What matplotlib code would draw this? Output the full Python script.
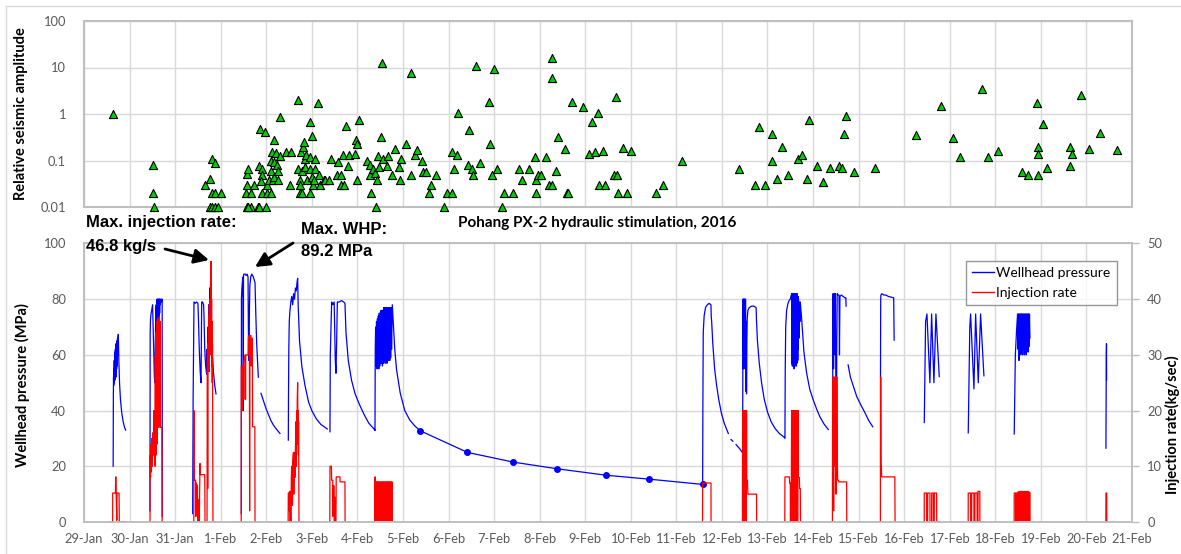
import numpy as np
import matplotlib
matplotlib.use('Agg')
import matplotlib.pyplot as plt
from matplotlib.lines import Line2D

nan = np.nan

# ---------------- data ----------------
day_labels = ['29-Jan', '30-Jan', '31-Jan', '1-Feb', '2-Feb', '3-Feb', '4-Feb', '5-Feb',
              '6-Feb', '7-Feb', '8-Feb', '9-Feb', '10-Feb', '11-Feb', '12-Feb', '13-Feb',
              '14-Feb', '15-Feb', '16-Feb', '17-Feb', '18-Feb', '19-Feb', '20-Feb', '21-Feb']
amp_ticks = [0.01, 0.1, 1, 10, 100]
amp_tick_labels = ['0.01', '0.1', '1', '10', '100']
whp_ticks = [0, 20, 40, 60, 80, 100]
rate_ticks = [0, 10, 20, 30, 40, 50]

# seismic events: (days since 29-Jan, relative amplitude)
seismic = [
    (0.64, 1.0), (1.52, 0.08), (1.52, 0.02), (1.53, 0.01),
    (2.66, 0.03), (2.76, 0.04), (2.80, 0.11), (2.88, 0.09), (2.82, 0.02), (2.87, 0.02), (3.01, 0.02),
    (2.76, 0.01), (2.80, 0.01), (2.87, 0.01), (2.94, 0.01),
    (3.56, 0.02), (3.57, 0.03), (3.58, 0.05), (3.61, 0.066), (3.66, 0.02), (3.58, 0.01), (3.66, 0.01),
    (3.73, 0.03), (3.61, 0.01), (3.82, 0.01),
    (3.84, 0.01), (3.85, 0.076), (3.86, 0.47), (3.90, 0.066), (3.90, 0.049), (3.89, 0.037), (3.91, 0.02),
    (3.97, 0.42), (3.99, 0.01), (4.01, 0.02), (4.01, 0.03), (4.10, 0.02),
    (4.06, 0.039), (4.10, 0.098), (4.11, 0.06), (4.13, 0.155), (4.14, 0.038), (4.16, 0.045), (4.17, 0.094),
    (4.18, 0.27), (4.21, 0.147), (4.23, 0.08), (4.26, 0.06), (4.26, 0.039), (4.30, 0.128), (4.30, 0.87),
    (4.43, 0.15), (4.54, 0.15), (4.52, 0.029),
    (4.70, 2.0), (4.70, 0.066), (4.74, 0.039), (4.74, 0.029), (4.74, 0.02), (4.77, 0.15), (4.79, 0.06),
    (4.79, 0.02), (4.81, 0.2), (4.83, 0.25), (4.85, 0.106), (4.86, 0.073), (4.88, 0.13), (4.89, 0.039),
    (4.95, 0.12), (4.96, 0.68), (4.96, 0.066), (4.97, 0.02), (5.00, 0.045), (5.01, 0.34), (5.03, 0.029),
    (5.05, 0.038), (5.07, 0.11), (5.07, 0.066), (5.14, 1.74), (5.16, 0.049), (5.18, 0.029), (5.27, 0.039),
    (5.29, 0.039), (5.38, 0.039), (5.41, 0.11),
    (5.56, 0.049), (5.58, 0.093), (5.65, 0.049), (5.64, 0.029), (5.71, 0.029), (5.69, 0.129), (5.74, 0.56),
    (5.80, 0.076), (5.82, 0.129), (5.95, 0.138), (5.97, 0.27), (6.00, 0.23), (5.99, 0.039), (6.04, 0.74),
    (6.20, 0.10), (6.28, 0.08), (6.28, 0.049), (6.30, 0.02), (6.35, 0.067), (6.39, 0.053), (6.40, 0.01),
    (6.42, 0.038), (6.46, 0.125), (6.48, 0.071), (6.52, 0.32), (6.53, 12.3), (6.57, 0.11), (6.64, 0.076),
    (6.68, 0.125), (6.76, 0.049), (6.83, 0.18), (6.91, 0.074), (6.93, 0.039), (6.95, 0.106),
    (7.07, 0.23), (7.17, 7.5), (7.17, 0.049), (7.26, 0.13), (7.30, 0.17), (7.41, 0.10), (7.45, 0.058),
    (7.51, 0.058), (7.57, 0.02), (7.62, 0.029), (7.72, 0.049), (7.90, 0.01), (7.96, 0.02), (8.07, 0.02),
    (8.08, 0.15), (8.13, 0.066), (8.19, 0.13), (8.21, 1.07), (8.42, 0.079), (8.46, 0.45), (8.51, 0.066),
    (8.53, 0.049), (8.60, 11.0), (8.69, 0.089), (8.89, 1.78), (8.92, 0.23), (8.96, 0.049), (9.00, 9.4),
    (9.06, 0.066), (9.17, 0.01), (9.22, 0.02), (9.41, 0.02), (9.55, 0.066), (9.62, 0.039), (9.77, 0.066),
    (9.90, 0.12), (9.93, 0.039), (9.93, 0.02), (9.96, 0.049), (10.03, 0.049), (10.15, 0.12), (10.21, 0.029),
    (10.28, 0.029), (10.28, 15.8), (10.28, 5.9), (10.35, 0.06), (10.40, 0.32), (10.56, 0.18), (10.61, 0.02),
    (10.63, 0.02),
    (10.72, 1.84), (10.96, 1.39), (11.09, 0.14), (11.15, 0.68), (11.21, 0.15), (11.27, 1.03), (11.38, 0.16),
    (11.31, 0.03), (11.43, 0.03), (11.64, 0.049), (11.70, 0.049), (11.68, 2.3), (11.73, 0.02), (11.82, 0.19),
    (11.91, 0.02), (12.00, 0.16), (12.55, 0.02), (12.70, 0.03), (13.12, 0.1),
    (14.38, 0.067), (14.73, 0.03), (14.82, 0.52), (14.95, 0.03), (15.11, 0.38), (15.11, 0.098), (15.20, 0.04),
    (15.31, 0.2), (15.44, 0.049), (15.68, 0.108), (15.75, 0.13), (15.87, 0.04), (15.91, 0.74), (16.08, 0.077),
    (16.21, 0.034), (16.37, 0.068), (16.58, 0.077), (16.63, 0.068), (16.69, 0.37), (16.72, 0.91), (16.90, 0.057),
    (17.35, 0.068), (18.27, 0.36), (18.81, 1.5), (19.07, 0.31), (19.22, 0.118), (19.70, 3.4), (19.85, 0.118),
    (20.07, 0.16), (20.58, 0.057), (20.72, 0.049), (20.91, 1.75), (20.93, 0.049), (20.94, 0.2), (20.94, 0.136),
    (21.05, 0.61), (21.14, 0.068), (21.64, 0.2), (21.68, 0.136), (21.65, 0.077), (21.88, 2.6), (22.05, 0.176),
    (22.30, 0.40), (22.67, 0.166),
]

# wellhead pressure (days, MPa), one list per recorded stage
whp_e1 = [(0.640, 20), (0.644, 45), (0.648, 52), (0.652, 49), (0.656, 55), (0.660, 50), (0.664, 58), (0.668, 51),
          (0.672, 60), (0.676, 52), (0.680, 61), (0.684, 51), (0.688, 62), (0.692, 53), (0.696, 63), (0.700, 52),
          (0.704, 64), (0.708, 54), (0.712, 64), (0.716, 55), (0.720, 65), (0.724, 56), (0.728, 65), (0.732, 58),
          (0.736, 66), (0.740, 60), (0.745, 66), (0.753, 67.4), (0.765, 58), (0.780, 50), (0.800, 44),
          (0.830, 39), (0.860, 36), (0.890, 34), (0.914, 33)]
whp_e2 = [(1.448, 4), (1.450, 30), (1.452, 68), (1.458, 72), (1.465, 74), (1.475, 75), (1.485, 76), (1.495, 77),
          (1.505, 78), (1.515, 72), (1.525, 65), (1.535, 58), (1.545, 52), (1.555, 50), (1.562, 60), (1.570, 70),
          (1.578, 76), (1.585, 78), (1.590, 60), (1.595, 79), (1.600, 62), (1.605, 80), (1.610, 64), (1.615, 80),
          (1.620, 70), (1.625, 80), (1.630, 58), (1.635, 80), (1.640, 72), (1.645, 80), (1.650, 66), (1.655, 80),
          (1.660, 75), (1.665, 80), (1.670, 78), (1.680, 80), (1.690, 80), (1.700, 79), (1.710, 80), (1.715, 80),
          (1.718, 2)]
whp_e3 = [(2.385, 3), (2.395, 45), (2.414, 79), (2.44, 78.5), (2.47, 79), (2.50, 78.5), (2.51, 74), (2.53, 62),
          (2.55, 54), (2.568, 50), (2.575, 65), (2.583, 79), (2.60, 79), (2.625, 78), (2.634, 74), (2.65, 62),
          (2.67, 56), (2.692, 53), (2.70, 62), (2.71, 57), (2.72, 70), (2.73, 64), (2.74, 78), (2.75, 72),
          (2.76, 84), (2.77, 80), (2.78, 88.5), (2.79, 75), (2.81, 62), (2.84, 54), (2.87, 49), (2.897, 46)]
whp_e4a = [(3.452, 3), (3.455, 80), (3.465, 84), (3.475, 86), (3.490, 88), (3.497, 40), (3.500, 88), (3.505, 89),
           (3.519, 89), (3.54, 89), (3.56, 88.5), (3.58, 89), (3.600, 88), (3.607, 70), (3.615, 58), (3.625, 62),
           (3.629, 75), (3.640, 85), (3.660, 88), (3.680, 89), (3.700, 88.5), (3.716, 88), (3.735, 87),
           (3.753, 86), (3.770, 75), (3.790, 64), (3.810, 57), (3.826, 52)]
whp_e4b = [(3.884, 46.2), (3.95, 43), (4.00, 40.5), (4.05, 38.5), (4.10, 36.5), (4.15, 35), (4.20, 33.8),
           (4.25, 32.8), (4.30, 31.8)]
whp_e5 = [(4.484, 29.4), (4.488, 45), (4.495, 62), (4.505, 72), (4.52, 76), (4.54, 79), (4.56, 81), (4.58, 78),
          (4.60, 82), (4.62, 80), (4.64, 84), (4.66, 83), (4.675, 86), (4.689, 87.5), (4.70, 78), (4.73, 65),
          (4.78, 56), (4.85, 49), (4.93, 43), (5.00, 40), (5.10, 37), (5.20, 35), (5.34, 33.4)]
whp_e6 = [(5.398, 32.4), (5.405, 60), (5.435, 79), (5.46, 78), (5.49, 79), (5.50, 70), (5.515, 58), (5.53, 53.4),
          (5.545, 65), (5.56, 79), (5.60, 79), (5.65, 79.5), (5.70, 79), (5.727, 78.5), (5.75, 68), (5.80, 58),
          (5.87, 51), (5.95, 46), (6.05, 42), (6.15, 38.5), (6.25, 35.5), (6.386, 33)]
whp_e7 = [(6.386, 33), (6.392, 62), (6.40, 70), (6.41, 56), (6.42, 72), (6.43, 55), (6.44, 73), (6.45, 56),
          (6.46, 74), (6.47, 55), (6.48, 75), (6.49, 56), (6.50, 75), (6.51, 57), (6.52, 76), (6.53, 57),
          (6.54, 76), (6.55, 56), (6.56, 76), (6.57, 57), (6.58, 77), (6.59, 58), (6.60, 77), (6.61, 57),
          (6.62, 77), (6.63, 58), (6.64, 77), (6.65, 57), (6.66, 77), (6.67, 58), (6.68, 77), (6.69, 58),
          (6.70, 77), (6.71, 58), (6.72, 77), (6.73, 59), (6.74, 77), (6.75, 62), (6.766, 78), (6.79, 71),
          (6.82, 62), (6.86, 54.6), (6.94, 46.3), (7.04, 40), (7.15, 36.6), (7.26, 34.5), (7.374, 32.8)]
whp_daily = [(7.374, 32.8), (8.413, 25.0), (9.422, 21.5), (10.388, 19.1), (11.456, 16.8), (12.392, 15.4),
             (13.577, 13.5)]
whp_e8a = [(13.577, 13.5), (13.582, 40), (13.59, 68), (13.61, 74), (13.64, 77), (13.68, 78), (13.72, 78.5),
           (13.76, 78), (13.765, 74), (13.775, 72), (13.80, 64), (13.84, 55), (13.88, 49.5), (13.93, 44),
           (13.99, 39), (14.05, 35.5), (14.14, 31.8)]
whp_e8b = [(14.20, 29.6), (14.24, 29.0)]
whp_e8c = [(14.31, 27.8), (14.38, 26.5), (14.44, 25.2)]
whp_e9 = [(14.455, 25), (14.458, 60), (14.462, 80), (14.466, 56), (14.470, 80), (14.474, 55), (14.478, 80),
          (14.482, 58), (14.486, 80), (14.490, 56), (14.494, 80), (14.498, 60), (14.502, 80), (14.506, 55),
          (14.510, 78), (14.514, 58), (14.518, 80), (14.522, 47), (14.526, 70), (14.530, 56), (14.535, 72),
          (14.540, 46), (14.548, 65), (14.555, 73), (14.57, 76), (14.60, 77), (14.65, 77.5), (14.70, 77.5),
          (14.75, 77), (14.76, 72), (14.78, 65), (14.82, 57), (14.87, 50), (14.93, 44), (15.00, 39.5),
          (15.08, 36), (15.17, 33.5), (15.26, 31.8), (15.36, 30.5)]
whp_e10 = [(15.383, 30), (15.39, 55), (15.40, 70), (15.42, 76), (15.45, 78.5), (15.48, 79.7), (15.50, 80),
           (15.53, 82), (15.535, 57), (15.54, 82), (15.545, 56), (15.55, 81), (15.555, 57), (15.56, 82),
           (15.565, 56), (15.57, 81), (15.575, 58), (15.58, 82), (15.585, 55), (15.59, 81), (15.595, 57),
           (15.60, 82), (15.605, 56), (15.61, 80), (15.615, 58), (15.62, 82), (15.625, 57), (15.63, 81),
           (15.635, 56), (15.64, 80), (15.645, 57), (15.65, 82), (15.655, 60), (15.66, 80), (15.665, 58),
           (15.67, 81), (15.675, 62), (15.68, 80), (15.69, 66), (15.70, 79), (15.713, 72), (15.72, 79),
           (15.75, 73), (15.80, 61), (15.86, 53.4), (15.93, 47.5), (16.005, 43.8), (16.08, 40.5),
           (16.15, 37.8), (16.24, 35.2), (16.334, 33.2)]
whp_e11a = [(16.43, 33), (16.435, 70), (16.44, 82), (16.45, 55), (16.46, 82), (16.47, 80), (16.48, 60),
            (16.49, 82), (16.50, 50), (16.51, 30), (16.515, 24.6), (16.52, 60), (16.53, 82), (16.55, 81.5),
            (16.57, 81.5), (16.58, 60), (16.59, 81), (16.62, 81.5), (16.66, 81), (16.70, 80.5), (16.72, 80.5),
            (16.725, 77.5)]
whp_e11b = [(16.77, 56.4), (16.82, 52), (16.88, 49), (16.96, 45), (17.05, 42), (17.14, 39.2), (17.22, 36.5),
            (17.31, 34.2)]
whp_e12 = [(17.48, 52), (17.485, 80), (17.49, 81.5), (17.51, 82), (17.55, 81.5), (17.60, 81.5), (17.65, 81),
           (17.70, 80.8), (17.77, 80.5), (17.775, 72), (17.78, 65.3)]
whp_e13 = [(18.441, 35.7), (18.47, 72), (18.500, 74.7), (18.565, 50), (18.602, 74.7), (18.653, 50),
           (18.697, 74.7), (18.770, 52.2)]
whp_e14 = [(19.406, 32), (19.44, 70), (19.458, 74.7), (19.531, 47.8), (19.568, 74.7), (19.626, 50),
           (19.677, 74.7), (19.750, 52.5)]
whp_e15 = [(20.415, 31.6), (20.44, 60), (20.467, 69), (20.489, 74.7), (20.50, 62), (20.51, 74.7), (20.52, 58),
           (20.53, 74.7), (20.54, 62), (20.55, 74.7), (20.56, 60), (20.57, 74.7), (20.58, 61), (20.59, 74.7),
           (20.60, 60), (20.61, 74.7), (20.62, 62), (20.63, 74.7), (20.64, 60), (20.65, 74.7), (20.66, 61),
           (20.67, 74.7), (20.68, 60), (20.69, 74.7), (20.70, 62), (20.71, 74.7), (20.72, 61), (20.73, 74.7),
           (20.74, 63), (20.75, 74.7), (20.76, 66)]
whp_e16 = [(22.428, 26.5), (22.432, 45), (22.436, 60), (22.44, 64), (22.442, 51)]

# injection rate (days, kg/s)
rate_e1 = [(0.629, 0), (0.630, 5.2), (0.69, 5.2), (0.695, 8.1), (0.70, 8.1), (0.705, 5.2), (0.72, 0.3),
           (0.725, 5.2), (0.77, 5.2), (0.775, 0), (0.90, 0)]
rate_e2 = [(1.449, 0), (1.450, 12), (1.46, 8), (1.47, 14), (1.48, 9), (1.49, 15), (1.50, 10), (1.51, 16),
           (1.52, 12), (1.53, 20), (1.54, 14), (1.55, 20), (1.56, 10), (1.565, 30), (1.57, 15), (1.575, 34),
           (1.58, 12), (1.585, 30), (1.59, 16), (1.595, 36), (1.60, 18), (1.605, 35), (1.61, 14), (1.615, 36.5),
           (1.62, 20), (1.625, 36), (1.63, 17), (1.635, 36.5), (1.64, 22), (1.645, 35), (1.65, 18),
           (1.655, 36.9), (1.66, 20), (1.665, 34), (1.67, 17), (1.675, 36), (1.68, 17), (1.69, 17), (1.70, 17),
           (1.71, 17), (1.715, 0), (1.74, 0)]
rate_e3 = [(2.41, 0), (2.414, 20), (2.418, 7.5), (2.45, 7.5), (2.455, 1), (2.46, 7), (2.49, 6.5), (2.495, 0),
           (2.50, 3), (2.51, 0), (2.52, 4), (2.53, 0), (2.546, 10.5), (2.55, 10), (2.555, 8.5), (2.65, 8.5),
           (2.656, 0), (2.70, 0), (2.706, 25), (2.71, 31), (2.715, 6), (2.72, 32), (2.725, 28), (2.73, 35),
           (2.735, 30), (2.74, 37), (2.745, 27), (2.75, 39), (2.755, 32), (2.76, 40), (2.765, 30), (2.77, 40),
           (2.775, 34), (2.78, 42), (2.787, 46.8), (2.79, 38), (2.795, 30), (2.80, 40), (2.805, 28), (2.81, 36),
           (2.815, 25), (2.82, 32), (2.83, 0), (2.88, 0)]
rate_e4 = [(3.45, 0), (3.452, 28), (3.47, 28), (3.475, 20), (3.48, 28), (3.50, 28), (3.505, 22), (3.51, 29),
           (3.533, 30), (3.54, 29), (3.545, 22), (3.55, 30), (3.60, 30), (3.607, 33.2), (3.63, 33.5),
           (3.635, 2), (3.64, 33), (3.66, 33.5), (3.67, 28), (3.68, 33), (3.695, 33), (3.70, 17.1),
           (3.75, 17.1), (3.753, 0), (3.79, 0)]
rate_e5 = [(4.48, 0), (4.484, 5.2), (4.50, 5.2), (4.505, 2), (4.51, 5.5), (4.52, 5.5), (4.525, 0), (4.53, 4),
           (4.54, 0), (4.55, 8), (4.557, 10), (4.57, 10), (4.575, 3), (4.58, 11), (4.59, 12.3), (4.60, 12.5),
           (4.605, 5), (4.61, 12), (4.62, 12.5), (4.63, 8), (4.64, 13), (4.65, 18), (4.66, 10), (4.67, 20),
           (4.675, 14), (4.68, 22), (4.689, 25), (4.695, 16), (4.70, 20), (4.705, 12), (4.71, 18), (4.718, 0),
           (4.813, 0)]
rate_e6 = [(5.395, 0), (5.398, 10), (5.43, 10), (5.435, 7.5), (5.46, 7.5), (5.465, 1), (5.47, 6.5), (5.49, 6.5),
           (5.495, 0), (5.50, 4.5), (5.505, 0), (5.53, 0), (5.535, 8.1), (5.618, 8.1), (5.62, 7.2), (5.727, 7.2),
           (5.73, 0), (5.837, 0)]
rate_e7 = [(6.385, 0), (6.386, 8.1), (6.392, 8.1), (6.395, 0.3), (6.40, 7.2), (6.41, 0.3), (6.42, 7.2), (6.43, 0.3),
           (6.44, 7.2), (6.45, 0.3), (6.46, 7.2), (6.47, 0.3), (6.48, 7.2), (6.49, 0.3), (6.50, 7.2), (6.51, 0.3),
           (6.52, 7.2), (6.53, 0.3), (6.54, 7.2), (6.55, 0.3), (6.56, 7.2), (6.57, 0.3), (6.58, 7.2), (6.59, 0.3),
           (6.60, 7.2), (6.61, 0.3), (6.62, 7.2), (6.63, 0.3), (6.64, 7.2), (6.65, 0.3), (6.66, 7.2), (6.67, 0.3),
           (6.68, 7.2), (6.69, 0.3), (6.70, 7.2), (6.71, 0.3), (6.72, 7.2), (6.73, 0.3), (6.74, 7.2), (6.75, 0.3),
           (6.76, 7.2), (6.766, 7.2), (6.768, 0)]
rate_e8 = [(13.575, 0), (13.577, 7), (13.76, 7), (13.762, 0)]
rate_e9 = [(14.45, 0), (14.455, 20), (14.46, 20), (14.462, 0), (14.465, 20), (14.47, 0), (14.475, 20), (14.48, 20),
           (14.482, 0), (14.485, 20), (14.49, 20), (14.495, 0), (14.50, 20), (14.51, 20), (14.512, 0), (14.515, 20),
           (14.53, 20), (14.535, 0), (14.54, 20), (14.545, 7.5), (14.56, 7.5), (14.565, 6), (14.57, 5),
           (14.76, 5), (14.762, 0)]
rate_e10 = [(15.38, 0), (15.383, 8.1), (15.48, 8.1), (15.485, 7), (15.50, 7), (15.505, 0), (15.51, 5), (15.52, 0),
            (15.53, 20), (15.54, 20), (15.542, 0), (15.545, 20), (15.56, 20), (15.562, 0), (15.565, 20),
            (15.58, 20), (15.582, 0), (15.585, 20), (15.60, 20), (15.602, 0), (15.605, 20), (15.62, 20),
            (15.622, 0), (15.625, 20), (15.64, 20), (15.642, 0), (15.645, 20), (15.66, 20), (15.662, 0),
            (15.665, 20), (15.675, 20), (15.68, 8), (15.70, 8), (15.705, 6), (15.72, 6), (15.725, 0), (15.77, 0)]
rate_e11 = [(16.425, 0), (16.43, 26), (16.45, 26), (16.452, 2), (16.455, 26), (16.48, 26), (16.482, 10),
            (16.49, 26), (16.50, 26), (16.505, 5), (16.51, 26), (16.53, 26), (16.535, 10), (16.54, 7.5),
            (16.56, 7.5), (16.565, 7.2), (16.737, 7.2), (16.74, 0)]
rate_e12 = [(17.478, 0), (17.48, 26), (17.49, 26), (17.495, 10), (17.50, 10), (17.505, 8.1), (17.795, 8.1),
            (17.80, 0)]
rate_e13 = [(18.44, 0), (18.441, 5.2), (18.492, 5.2), (18.494, 0), (18.514, 0), (18.516, 5.2), (18.565, 5.2),
            (18.567, 0), (18.602, 0), (18.604, 5.2), (18.638, 5.2), (18.64, 0), (18.66, 0), (18.662, 5.2),
            (18.712, 5.2), (18.714, 0), (18.77, 0)]
rate_e14 = [(19.405, 0), (19.406, 5.2), (19.458, 5.2), (19.46, 0), (19.48, 0), (19.482, 5.2), (19.53, 5.2),
            (19.532, 0), (19.55, 0), (19.552, 5.2), (19.60, 5.2), (19.602, 0), (19.62, 0), (19.622, 5.5),
            (19.66, 5.5), (19.662, 0), (19.75, 0)]
rate_e15 = [(20.414, 0), (20.415, 5.2), (20.445, 5.2), (20.447, 0), (20.46, 0), (20.462, 5.2), (20.49, 5.2),
            (20.492, 0.3), (20.50, 5.4), (20.51, 0.3), (20.52, 5.4), (20.53, 0.3), (20.54, 5.5), (20.55, 0.3),
            (20.56, 5.5), (20.57, 0.3), (20.58, 5.5), (20.59, 0.3), (20.60, 5.5), (20.61, 0.3), (20.62, 5.4),
            (20.63, 0.3), (20.64, 5.5), (20.65, 0.3), (20.66, 5.4), (20.67, 0.3), (20.68, 5.5), (20.69, 0.3),
            (20.70, 5.4), (20.71, 0.3), (20.72, 5.5), (20.73, 0.3), (20.74, 5.4), (20.75, 0.3), (20.755, 5.3),
            (20.76, 0)]
rate_e16 = [(22.427, 0), (22.428, 5.2), (22.445, 5.2), (22.447, 0)]

whp_stages = [whp_e1, whp_e2, whp_e3, whp_e4a, whp_e4b, whp_e5, whp_e6, whp_e7, whp_e8a, whp_e8b, whp_e8c,
              whp_e9, whp_e10, whp_e11a, whp_e11b, whp_e12, whp_e13, whp_e14, whp_e15, whp_e16]
rate_stages = [rate_e1, rate_e2, rate_e3, rate_e4, rate_e5, rate_e6, rate_e7, rate_e8, rate_e9, rate_e10,
               rate_e11, rate_e12, rate_e13, rate_e14, rate_e15, rate_e16]


def join(stages):
    xs, ys = [], []
    for st in stages:
        for x, y in st:
            xs.append(x)
            ys.append(y)
        xs.append(nan)
        ys.append(nan)
    return np.array(xs), np.array(ys)


# ---------------- figure ----------------
W, H = 1181, 554
fig = plt.figure(figsize=(W / 100, H / 100), dpi=100)
FONT = 'Lato'
TICKC = '#595959'
GRIDC = '#d9d9d9'
TSIZE = 9.3

ax_top = fig.add_axes([84 / W, 1 - 207 / H, 1048 / W, 186 / H])
ax = fig.add_axes([84 / W, 1 - 522 / H, 1048 / W, 278.5 / H])
ax2 = ax.twinx()

# top panel
sx = [p[0] for p in seismic]
sy = [p[1] for p in seismic]
ax_top.set_yscale('log')
ax_top.set_xlim(0, 23)
ax_top.set_ylim(0.01, 100)
ax_top.scatter(sx, sy, marker='^', s=34, facecolor='#00cc00', edgecolor='black', linewidths=0.8,
               zorder=3, clip_on=False)
ax_top.set_xticks(range(24))
ax_top.set_yticks(amp_ticks)
ax_top.set_yticklabels(amp_tick_labels)
ax_top.yaxis.set_minor_locator(matplotlib.ticker.NullLocator())
ax_top.tick_params(axis='x', length=0, labelbottom=False)
ax_top.tick_params(axis='y', length=0, pad=13, labelsize=TSIZE, labelcolor=TICKC)
for lab in ax_top.get_yticklabels():
    lab.set_family(FONT)
ax_top.grid(True, color=GRIDC, lw=1)
ax_top.set_axisbelow(True)
for sp in ax_top.spines.values():
    sp.set_color('#bfbfbf')
    sp.set_linewidth(1.5)
ax_top.set_ylabel('Relative seismic amplitude', family=FONT, fontsize=10.5, fontweight='bold')
ax_top.yaxis.set_label_coords(-56 / 1048, 0.5)

# bottom panel
wx, wy = join(whp_stages)
rx, ry = join(rate_stages)
ax.plot(wx, wy, color='#0000ff', lw=0.9, zorder=2)
ax.plot([p[0] for p in whp_daily], [p[1] for p in whp_daily], color='#0000ff', lw=0.9,
        marker='o', ms=4, zorder=2)
ax2.plot(rx, ry, color='#ff0000', lw=0.9, zorder=2)

ax.set_xlim(0, 23)
ax.set_ylim(0, 100)
ax2.set_ylim(0, 50)
ax.set_xticks(range(24))
ax.set_xticklabels(day_labels)
ax.set_yticks(whp_ticks)
ax2.set_yticks(rate_ticks)
ax.grid(True, color=GRIDC, lw=1)
ax.set_axisbelow(True)
ax.tick_params(axis='x', length=0, pad=8, labelsize=TSIZE, labelcolor=TICKC)
ax.tick_params(axis='y', length=0, pad=13, labelsize=TSIZE, labelcolor=TICKC)
ax2.tick_params(axis='y', length=5, width=1, color='#bfbfbf', pad=6, labelsize=TSIZE, labelcolor=TICKC)
for lab in ax.get_xticklabels() + ax.get_yticklabels() + ax2.get_yticklabels():
    lab.set_family(FONT)
for a in (ax, ax2):
    for sp in a.spines.values():
        sp.set_color('#bfbfbf')
        sp.set_linewidth(1.2)
ax.set_ylabel('Wellhead pressure (MPa)', family=FONT, fontsize=10.5, fontweight='bold')
ax.yaxis.set_label_coords(-54 / 1048, 0.49)
ax2.set_ylabel('Injection rate(kg/sec)', family=FONT, fontsize=10.5, fontweight='bold')
ax2.yaxis.set_label_coords(1.031, 0.35)

handles = [Line2D([], [], color='#0000ff', lw=1), Line2D([], [], color='#ff0000', lw=1)]
leg = ax.legend(handles, ['Wellhead pressure', 'Injection rate'], loc='upper right',
                bbox_to_anchor=(0.992, 0.962), frameon=True, fancybox=False, handlelength=1.6,
                handletextpad=0.15, borderpad=0.45, labelspacing=0.55,
                prop={'family': FONT, 'size': 10})
leg.get_frame().set_edgecolor('#7f7f7f')
leg.get_frame().set_linewidth(1)
leg.set_zorder(5)

# texts
def fx(x):
    return x / W


def fy(y):
    return 1 - y / H


fig.text(fx(597), fy(223), 'Pohang PX-2 hydraulic stimulation, 2016', ha='center', va='center',
         family=FONT, fontsize=11, fontweight='bold')
bold_narrow = ['Liberation Sans Narrow', 'Liberation Sans', 'DejaVu Sans']
ANN = 12
fig.text(fx(86), fy(223), 'Max. injection rate:', ha='left', va='center', family=bold_narrow,
         fontsize=ANN, fontweight='bold')
fig.text(fx(86), fy(246), '46.8 kg/s', ha='left', va='center', family=bold_narrow,
         fontsize=ANN, fontweight='bold')
fig.text(fx(301), fy(229), 'Max. WHP:', ha='left', va='center', family=bold_narrow,
         fontsize=ANN, fontweight='bold')
fig.text(fx(301), fy(252), '89.2 MPa', ha='left', va='center', family=bold_narrow,
         fontsize=ANN, fontweight='bold')

arrow = dict(arrowstyle='-|>', color='black', lw=2, mutation_scale=22, shrinkA=0, shrinkB=0)
fig.add_artist(matplotlib.patches.FancyArrowPatch((fx(165), fy(249)), (fx(209), fy(260)),
                                                  transform=fig.transFigure, **arrow))
fig.add_artist(matplotlib.patches.FancyArrowPatch((fx(293), fy(243)), (fx(255), fy(267)),
                                                  transform=fig.transFigure, **arrow))

# outer frame lines
fig.add_artist(Line2D([fx(6), 1], [fy(6), fy(6)], transform=fig.transFigure, color='#d9d9d9', lw=1))
fig.add_artist(Line2D([fx(6), fx(6)], [fy(6), 0], transform=fig.transFigure, color='#d9d9d9', lw=1))

fig.savefig('out.png', dpi=100)
